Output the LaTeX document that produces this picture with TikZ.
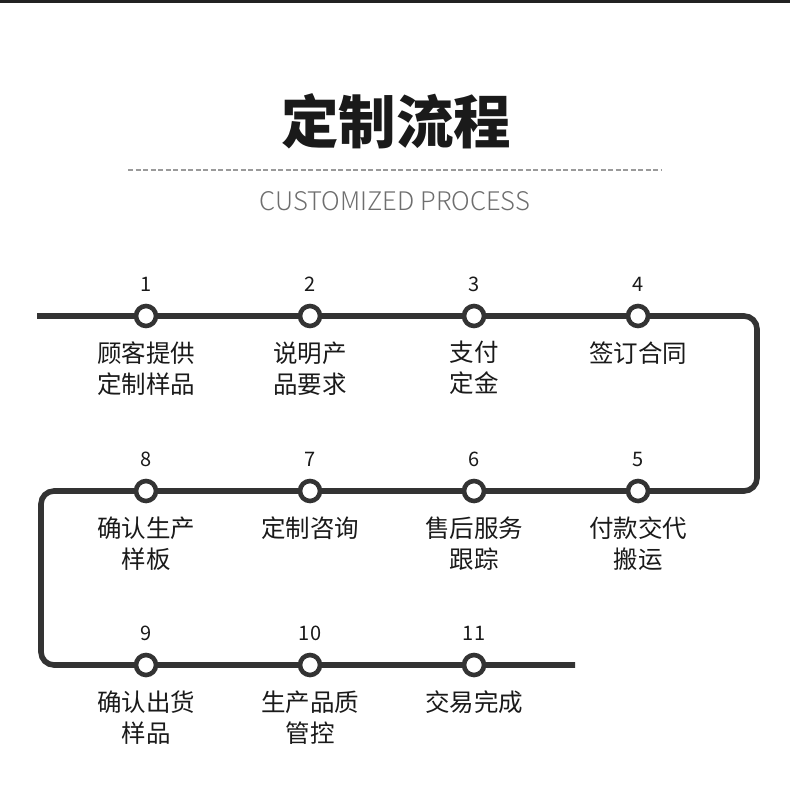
\documentclass[tikz,border=0pt]{standalone}
\usepackage{fontspec}
\setmainfont{Noto Sans CJK SC}
\newfontfamily\sublight{Noto Sans CJK SC Light}
\usepackage{xcolor}
\usetikzlibrary{calc,backgrounds}
\definecolor{trackgray}{HTML}{333333}
\definecolor{inkblack}{HTML}{1A1A1A}
\definecolor{subgray}{HTML}{6E6E6E}
\definecolor{dashgray}{HTML}{9A9A9A}
\definecolor{bargray}{HTML}{222222}

\begin{document}
\begin{tikzpicture}[
  x=0.5pt,y=-0.5pt,
  trackline/.style={line width=2.8pt,draw=trackgray,rounded corners=6.5pt},
  station/.style={circle,draw=trackgray,line width=2.3pt,fill=white,minimum size=10pt,inner sep=0pt},
  num/.style={font=\fontsize{10}{12}\selectfont,text=inkblack,inner sep=0pt},
  lbl/.style={font=\fontsize{12.25}{15.5}\selectfont,text=inkblack,align=center,anchor=north,inner sep=0pt}
]
  \useasboundingbox (0,0) rectangle (790,790);

  % Header: top bar, title, dashed rule, subtitle
  \fill[bargray] (0,0) rectangle (790,3);
  \node[font=\fontsize{28.75}{32}\selectfont\bfseries,text=inkblack] (title) at (396,121) {定制流程};
  \coordinate (rule_l) at (128,170);
  \coordinate (rule_r) at (662,170);
  \draw[dashgray,line width=0.6pt,dash pattern=on 2.5pt off 1.25pt] (rule_l) -- (rule_r);
  \node[font=\sublight\fontsize{12.8}{15}\selectfont,text=subgray] (subtitle) at (395,201) {CUSTOMIZED PROCESS};

  % Stations (row 1 left to right, row 2 right to left, row 3 left to right)
  \node[station] (s1)  at (146,316) {};
  \node[station] (s2)  at (310,316) {};
  \node[station] (s3)  at (474,316) {};
  \node[station] (s4)  at (638,316) {};
  \node[station] (s5)  at (638,491) {};
  \node[station] (s6)  at (474,491) {};
  \node[station] (s7)  at (310,491) {};
  \node[station] (s8)  at (146,491) {};
  \node[station] (s9)  at (146,665) {};
  \node[station] (s10) at (310,665) {};
  \node[station] (s11) at (474,665) {};

  % Track ends and corners
  \coordinate (trk_start) at (37,316);
  \coordinate (trk_c1) at (757,316);
  \coordinate (trk_c2) at (757,491);
  \coordinate (trk_c3) at (41,491);
  \coordinate (trk_c4) at (41,665);
  \coordinate (trk_end) at (575,665);

  % Track (behind the stations)
  \begin{scope}[on background layer]
    \draw[trackline] (trk_start) -- (s1.center) -- (s2.center) -- (s3.center) -- (s4.center)
      -- (trk_c1) -- (trk_c2) -- (s5.center) -- (s6.center) -- (s7.center) -- (s8.center)
      -- (trk_c3) -- (trk_c4) -- (s9.center) -- (s10.center) -- (s11.center) -- (trk_end);
  \end{scope}

  % Step numbers
  \node[num] (n1)  at ($(s1)+(0,-32)$)  {1};
  \node[num] (n2)  at ($(s2)+(0,-32)$)  {2};
  \node[num] (n3)  at ($(s3)+(0,-32)$)  {3};
  \node[num] (n4)  at ($(s4)+(0,-32)$)  {4};
  \node[num] (n5)  at ($(s5)+(0,-32)$)  {5};
  \node[num] (n6)  at ($(s6)+(0,-32)$)  {6};
  \node[num] (n7)  at ($(s7)+(0,-32)$)  {7};
  \node[num] (n8)  at ($(s8)+(0,-32)$)  {8};
  \node[num] (n9)  at ($(s9)+(0,-32)$)  {9};
  \node[num] (n10) at ($(s10)+(0,-32)$) {10};
  \node[num] (n11) at ($(s11)+(0,-32)$) {11};

  % Step labels
  \node[lbl] (l1)  at ($(s1)+(0,25)$)  {顾客提供\\定制样品};
  \node[lbl] (l2)  at ($(s2)+(0,25)$)  {说明产\\品要求};
  \node[lbl] (l3)  at ($(s3)+(0,25)$)  {支付\\定金};
  \node[lbl] (l4)  at ($(s4)+(0,25)$)  {签订合同};
  \node[lbl] (l5)  at ($(s5)+(0,25)$)  {付款交代\\搬运};
  \node[lbl] (l6)  at ($(s6)+(0,25)$)  {售后服务\\跟踪};
  \node[lbl] (l7)  at ($(s7)+(0,25)$)  {定制咨询};
  \node[lbl] (l8)  at ($(s8)+(0,25)$)  {确认生产\\样板};
  \node[lbl] (l9)  at ($(s9)+(0,25)$)  {确认出货\\样品};
  \node[lbl] (l10) at ($(s10)+(0,25)$) {生产品质\\管控};
  \node[lbl] (l11) at ($(s11)+(0,25)$) {交易完成};
\end{tikzpicture}
\end{document}
